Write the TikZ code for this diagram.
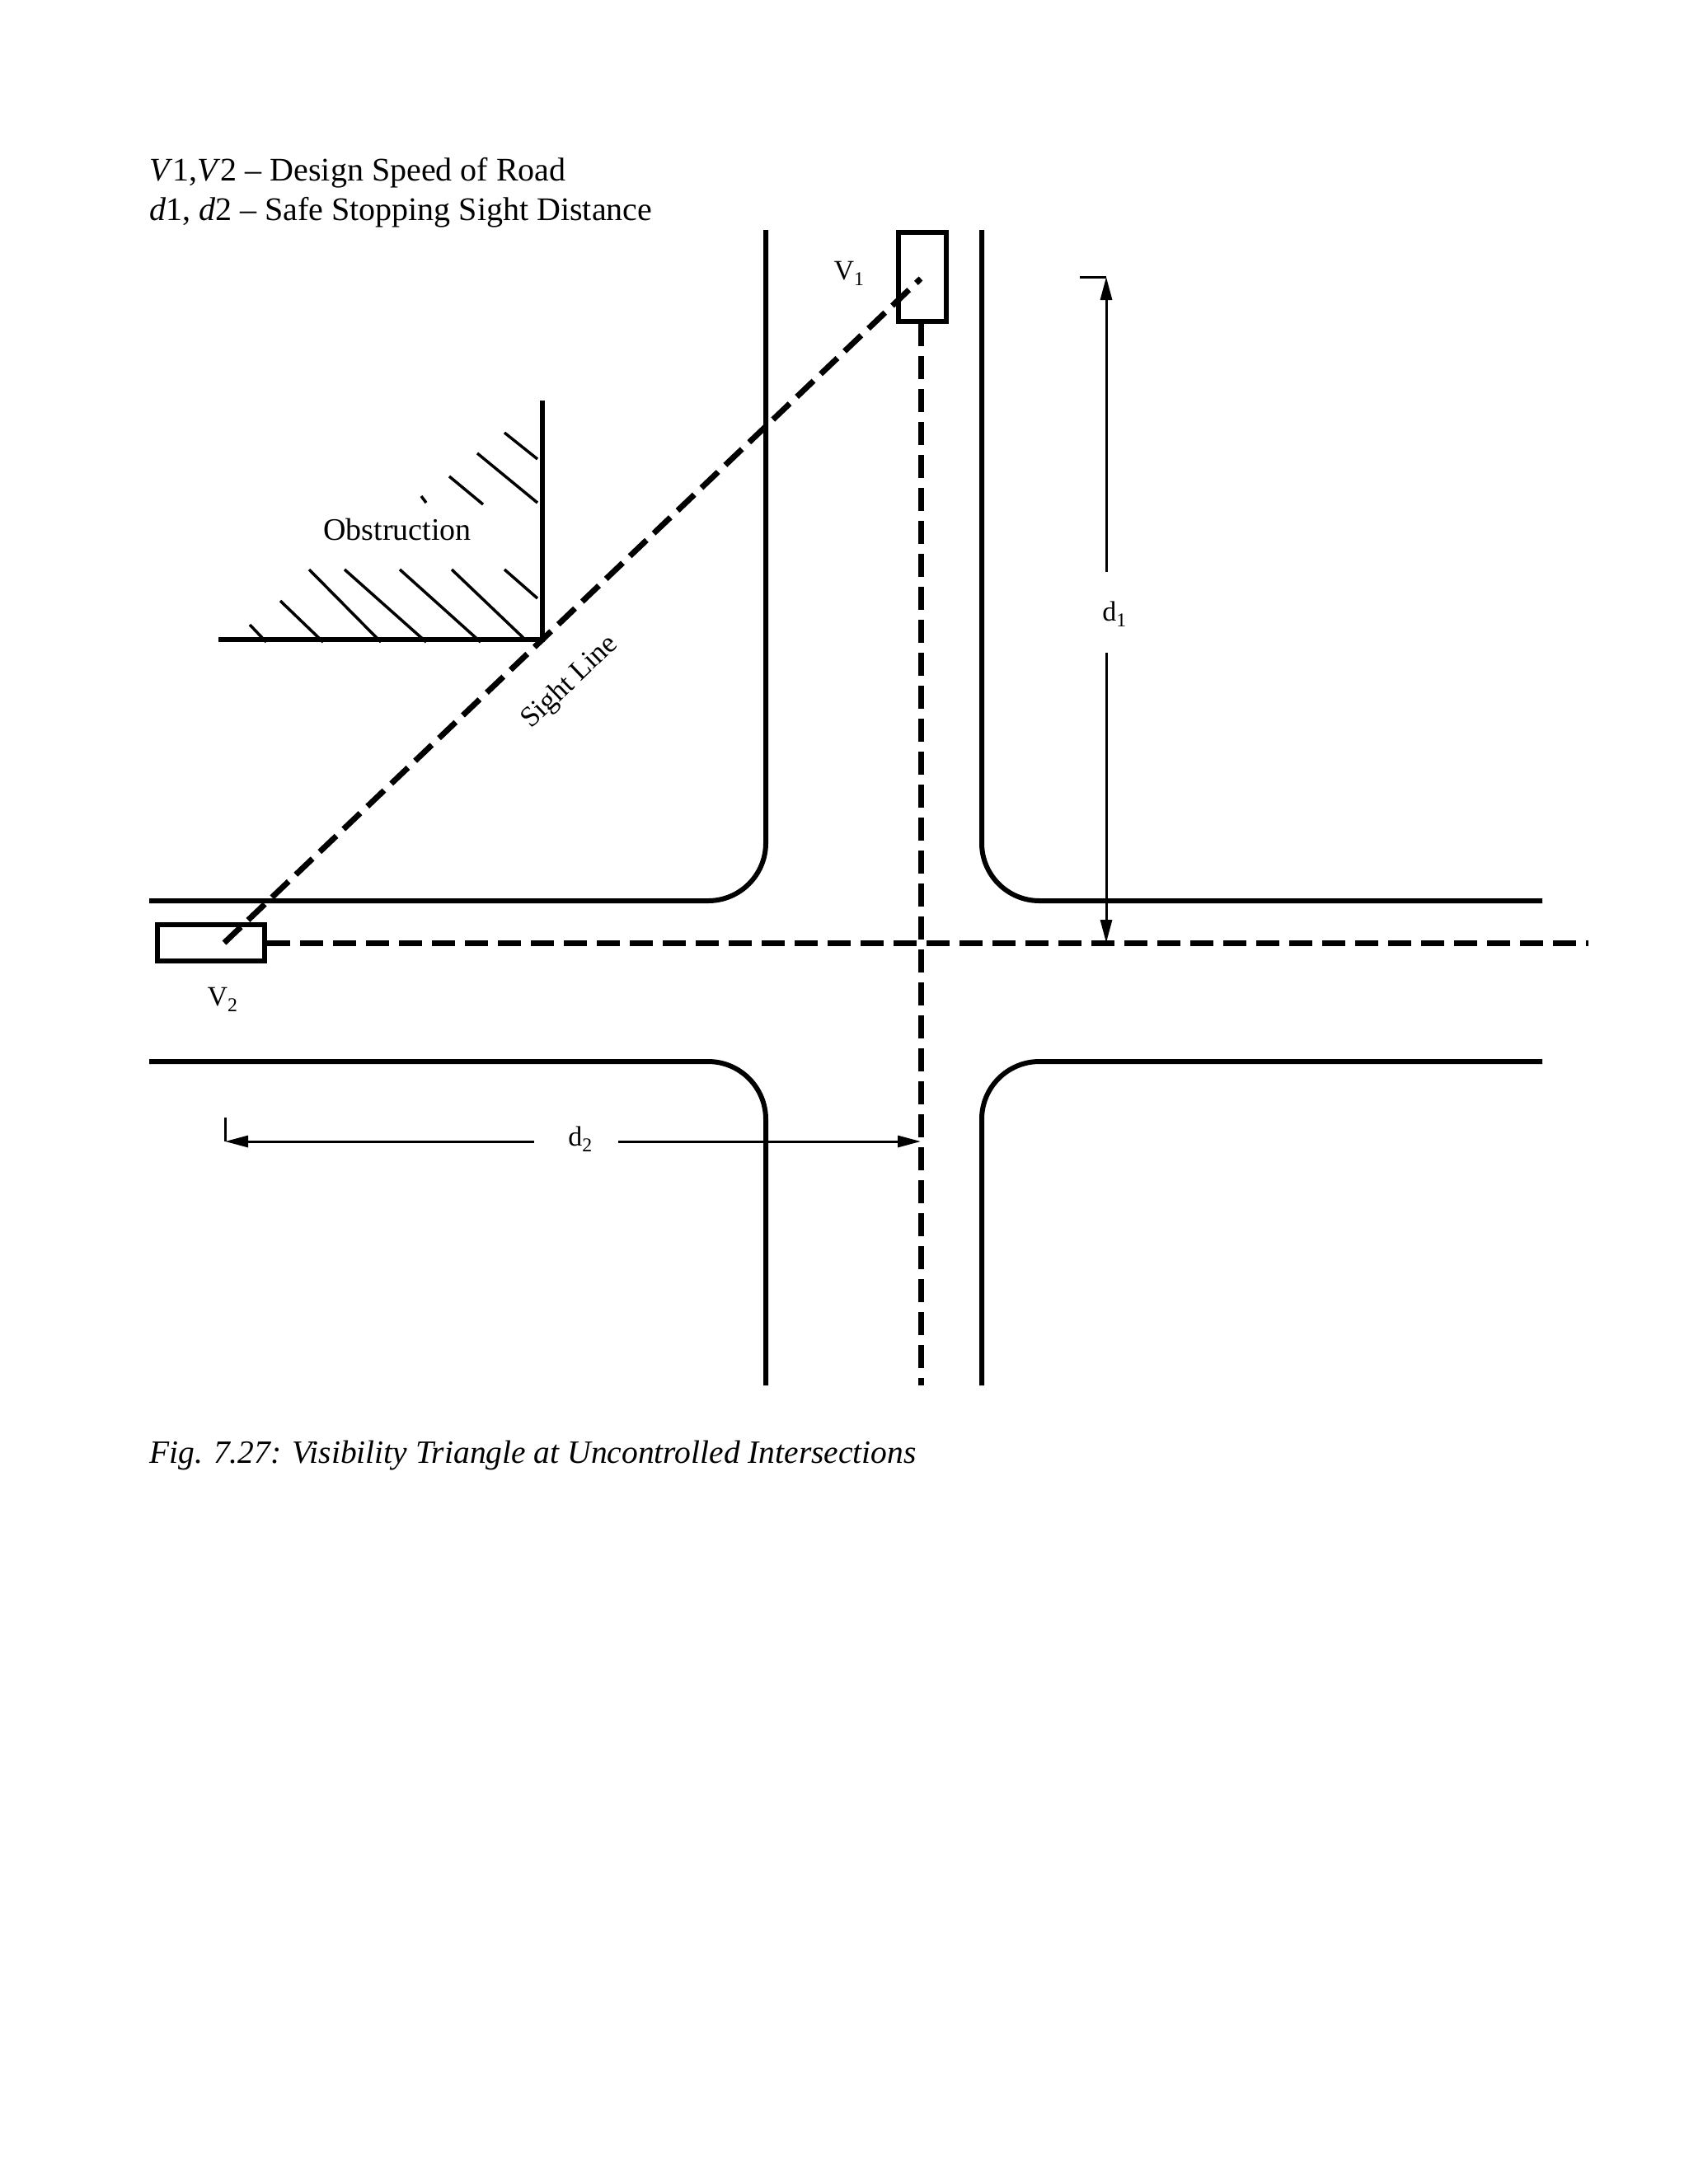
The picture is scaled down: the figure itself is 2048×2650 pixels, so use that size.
\documentclass[tikz,border=0pt]{standalone}
\usepackage{fontspec}
\setmainfont{Liberation Serif}
\usetikzlibrary{arrows.meta}
\begin{document}
\begin{tikzpicture}[x=1pt,y=-1pt,
  road/.style={line width=6pt},
  cl/.style={line width=7pt,dash pattern=on 28pt off 12pt},
  dim/.style={line width=3pt},
  lbl/.style={font=\fontsize{34}{40}\selectfont},
  hatch/.style={line width=3.5pt}]
\useasboundingbox (0,0) rectangle (2048,2650);
% title
\node[anchor=base west,font=\fontsize{40}{48}\selectfont,inner sep=0] (t1) at (181,219) {\textit{V}1,\textit{V}2 – Design Speed of Road};
\node[anchor=base west,font=\fontsize{40}{48}\selectfont,inner sep=0] (t2) at (181,267) {\textit{d}1, \textit{d}2 – Safe Stopping Sight Distance};
% road edges
\draw[road,rounded corners=70pt] (929,279) -- (929,1093) -- (181,1093);
\draw[road,rounded corners=70pt] (1191,279) -- (1191,1093) -- (1871,1093);
\draw[road,rounded corners=70pt] (181,1288) -- (929,1288) -- (929,1681);
\draw[road,rounded corners=70pt] (1871,1288) -- (1191,1288) -- (1191,1681);
% vehicles
\node[draw,line width=6pt,minimum width=58pt,minimum height=108pt,inner sep=0] (v1) at (1119,336) {};
\node[draw,line width=6pt,minimum width=130pt,minimum height=44pt,inner sep=0] (v2) at (256,1144) {};
\coordinate (p1) at (1117,338);
\coordinate (p2) at (272,1144);
\coordinate (ob) at (658,776);
% center lines
\draw[cl] (1117,392) -- (1117,1681);
\draw[cl] (324,1144) -- (1927,1144);
% sight line
\draw[cl] (p2) -- (ob) -- (p1);
% obstruction
\draw[road] (265,776) -- (658,776) -- (658,486);
\foreach \a/\b/\c/\d in {303/758/323/779,340/729/392/779,375/691/462/779,418/691/517/779,485/691/583/779,548/691/635/774,612/691/652/726,612/525/652/557,579/550/652/610,545/578/586/612,511/602/517/610}
  \draw[hatch] (\a,\b) -- (\c,\d);
\node[font=\fontsize{38}{44}\selectfont] (obs) at (482,642) {Obstruction};
\node[font=\fontsize{35}{40}\selectfont,rotate=43.7] (sl) at (692,828) {Sight Line};
\node[lbl] (v1l) at (1030,332) {V\textsubscript{1}};
\node[lbl] (v2l) at (270,1213) {V\textsubscript{2}};
% d1
\node[lbl] (d1) at (1352,745) {d\textsubscript{1}};
\draw[dim] (1310,336) -- (1342,336);
\draw[dim,-{Triangle[length=28pt,width=14pt]}] (1342,694) -- (1342,336);
\draw[dim,-{Triangle[length=28pt,width=14pt]}] (1342,792) -- (1342,1144);
% d2
\node[lbl] (d2) at (704,1382) {d\textsubscript{2}};
\draw[dim] (273,1356) -- (273,1385);
\draw[dim,-{Triangle[length=28pt,width=14pt]}] (648,1385) -- (273,1385);
\draw[dim,-{Triangle[length=28pt,width=14pt]}] (750,1385) -- (1117,1385);
% caption
\node[anchor=base west,font=\fontsize{39.5}{46}\selectfont\itshape,inner sep=0] (cap) at (181,1775) {Fig. 7.27: Visibility Triangle at Uncontrolled Intersections};
\end{tikzpicture}
\end{document}
